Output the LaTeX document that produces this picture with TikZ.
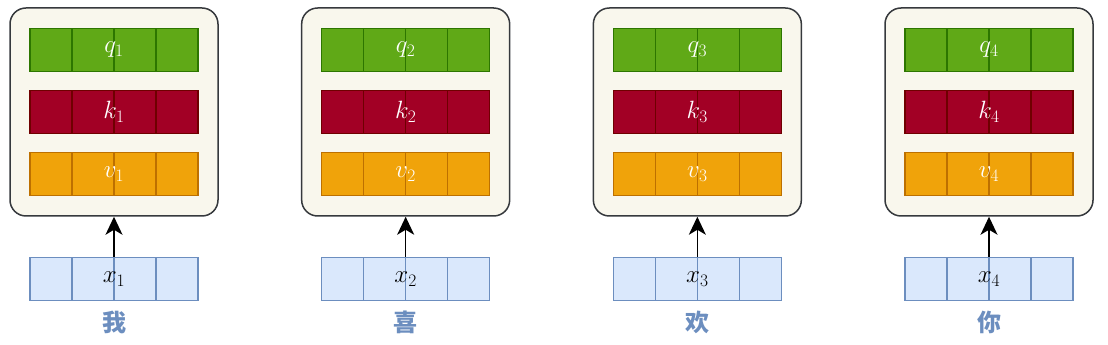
\RequirePackage{fix-cm}
\documentclass[tikz,border=0pt]{standalone}
\usepackage{fontspec}
\newfontfamily\cjk{Noto Sans CJK SC}
\usetikzlibrary{positioning, arrows.meta}
\usepackage{xcolor}

\definecolor{qfill}{HTML}{60A917}
\definecolor{qline}{HTML}{2D7600}
\definecolor{kfill}{HTML}{A20025}
\definecolor{kline}{HTML}{6F0000}
\definecolor{vfill}{HTML}{F0A30A}
\definecolor{vline}{HTML}{BD7000}
\definecolor{xfill}{HTML}{DAE8FC}
\definecolor{xline}{HTML}{6C8EBF}
\definecolor{boxfill}{HTML}{F9F7ED}
\definecolor{boxline}{HTML}{36393D}

\tikzset{
    block/.style={draw=boxline, fill=boxfill, line width=1.5pt, rounded corners=16pt,
        minimum width=208pt, minimum height=208pt, inner sep=0pt},
    vecbar/.style 2 args={draw=#2, fill=#1, line width=1.3pt, minimum width=168pt,
        minimum height=43pt, inner sep=0pt, font=\fontsize{25}{30}\selectfont,
        path picture={\foreach \f in {-42,0,42}
            \draw[#2, line width=1.3pt] ([xshift=\f pt]path picture bounding box.north)
                -- ([xshift=\f pt]path picture bounding box.south);}},
    word/.style={text=xline, font=\cjk\bfseries\fontsize{24}{28}\selectfont}
}

\begin{document}
\begin{tikzpicture}[x=1pt, y=1pt, node distance=62pt, on grid,
    >={Stealth[length=18pt, width=17pt, inset=5pt]}]
    \useasboundingbox (0,0) rectangle (1108,345);
    \foreach \i/\w in {1/我, 2/喜, 3/欢, 4/你} {
        % block holding q, k, v
        \node[block] (box\i) at ({114+291.67*(\i-1)}, 233) {};
        \node[vecbar={qfill}{qline}, text=white, above=of box\i] (q\i) {$q_\i$};
        \node[vecbar={kfill}{kline}, text=white] (k\i) at (box\i) {$k_\i$};
        \node[vecbar={vfill}{vline}, text=white, below=of box\i] (v\i) {$v_\i$};

        % input vector and its word
        \node[vecbar={xfill}{xline}, below=167pt of box\i] (x\i) {$x_\i$};
        \node[word, below=43pt of x\i] (w\i) {\w};

        \path[->, line width=1.5pt] (x\i) edge (box\i);
    }
\end{tikzpicture}
\end{document}
